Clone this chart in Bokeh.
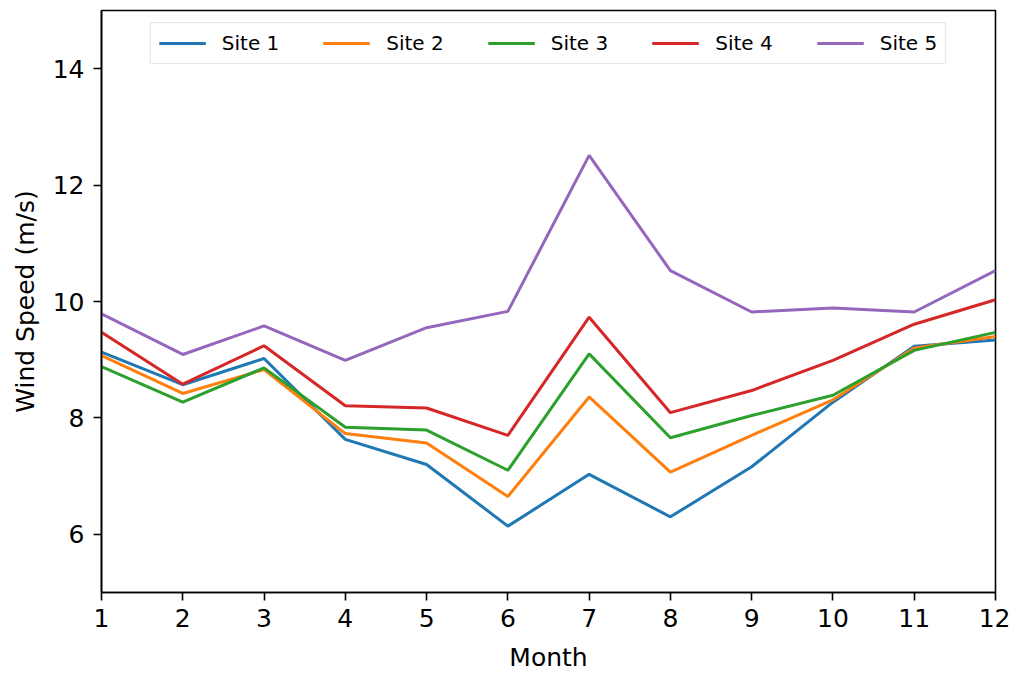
from bokeh.plotting import figure
from bokeh.models import Legend, LegendItem, FixedTicker, Range1d
from bokeh.embed import file_html
from bokeh.resources import INLINE

months = [1, 2, 3, 4, 5, 6, 7, 8, 9, 10, 11, 12]
site1 = [9.13, 8.57, 9.02, 7.63, 7.20, 6.14, 7.03, 6.30, 7.16, 8.27, 9.23, 9.34]
site2 = [9.07, 8.42, 8.83, 7.73, 7.57, 6.65, 8.36, 7.07, 7.70, 8.31, 9.20, 9.40]
site3 = [8.88, 8.27, 8.86, 7.84, 7.79, 7.10, 9.10, 7.66, 8.04, 8.39, 9.16, 9.47]
site4 = [9.47, 8.58, 9.24, 8.21, 8.17, 7.70, 9.73, 8.09, 8.47, 8.99, 9.61, 10.03]
site5 = [9.79, 9.09, 9.58, 8.99, 9.55, 9.83, 12.51, 10.53, 9.82, 9.89, 9.82, 10.53]
series_names = ["Site 1", "Site 2", "Site 3", "Site 4", "Site 5"]
colors = ["#1f77b4", "#ff7f0e", "#2ca02c", "#d62728", "#9467bd"]
x_ticks = months
y_ticks = [6, 8, 10, 12, 14]

FONT = "DejaVu Sans"

p = figure(output_backend="svg", toolbar_location=None,
           frame_width=894, frame_height=582,
           min_border_left=101, min_border_right=15, min_border_top=10, min_border_bottom=75,
           x_range=Range1d(1, 12), y_range=Range1d(5, 15))

renderers = []
for name, ys, c in zip(series_names, [site1, site2, site3, site4, site5], colors):
    r = p.line(months, ys, line_color=c, line_width=3)
    renderers.append((name, r))

p.xgrid.visible = False
p.ygrid.visible = False
p.outline_line_color = "black"
p.outline_line_width = 1.6
p.outline_line_alpha = 1.0

for ax in (p.xaxis[0], p.yaxis[0]):
    ax.axis_line_color = "black"
    ax.axis_line_width = 1.6
    ax.major_tick_line_width = 1.6
    ax.major_tick_out = 8
    ax.major_tick_in = 0
    ax.minor_tick_line_color = None
    ax.major_label_text_font = FONT
    ax.major_label_text_font_size = "25px"
    ax.major_label_text_color = "black"
    ax.axis_label_text_font = FONT
    ax.axis_label_text_font_size = "25px"
    ax.axis_label_text_font_style = "normal"
    ax.axis_label_text_color = "black"

p.xaxis.ticker = FixedTicker(ticks=x_ticks)
p.yaxis.ticker = FixedTicker(ticks=y_ticks)
p.xaxis.axis_label = "Month"
p.yaxis.axis_label = "Wind Speed (m/s)"
p.xaxis.major_label_standoff = 8
p.yaxis.major_label_standoff = 9
p.xaxis.axis_label_standoff = 13
p.yaxis.axis_label_standoff = 10

legend = Legend(items=[LegendItem(label=n, renderers=[r]) for n, r in renderers],
                orientation="horizontal", location="top_center")
legend.label_text_font = FONT
legend.label_text_font_size = "20px"
legend.label_text_color = "black"
legend.label_height = 20
legend.glyph_width = 47
legend.glyph_height = 20
legend.label_standoff = 16
legend.spacing = 44
legend.padding = 8
legend.margin = 12
legend.border_line_color = "#cccccc"
legend.border_line_width = 1.3
legend.background_fill_alpha = 0.8
p.add_layout(legend)

open("out.html", "w").write(file_html(p, INLINE))
